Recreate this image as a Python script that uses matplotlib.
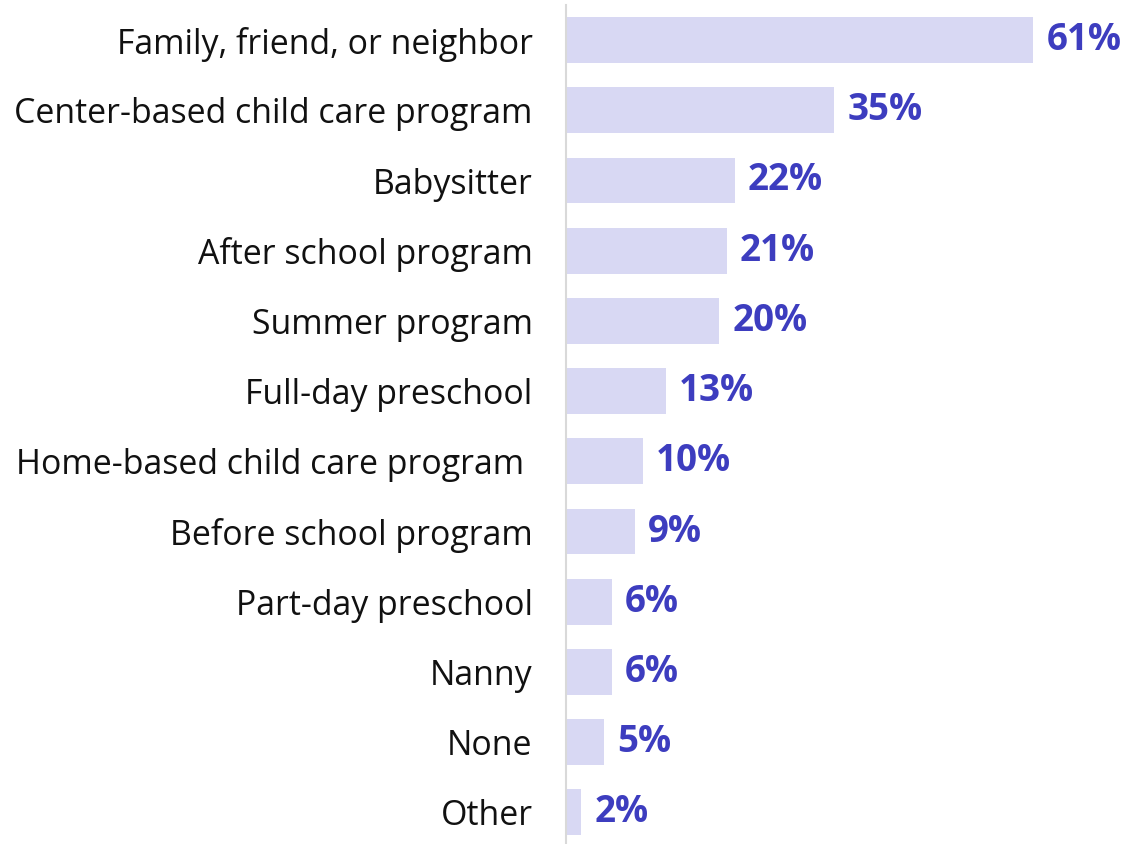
import matplotlib
matplotlib.use("Agg")
import matplotlib.pyplot as plt

categories = ["Family, friend, or neighbor", "Center-based child care program", "Babysitter",
              "After school program", "Summer program", "Full-day preschool",
              "Home-based child care program ", "Before school program", "Part-day preschool",
              "Nanny", "None", "Other"]
values = [61, 35, 22, 21, 20, 13, 10, 9, 6, 6, 5, 2]
value_labels = ["61%", "35%", "22%", "21%", "20%", "13%", "10%", "9%", "6%", "6%", "5%", "2%"]

W, H = 1146, 844
fig = plt.figure(figsize=(W / 100, H / 100), dpi=100)
ax_h = 12 * 70.2
ax = fig.add_axes([566 / W, (H - 5 - ax_h) / H, (W - 566) / W, ax_h / H])

bar_color = "#d8d8f3"
text_color = "#3d3dbf"
ypos = list(range(len(categories)))
ax.barh(ypos, values, height=0.65, color=bar_color, zorder=2)
ax.set_ylim(len(categories) - 0.5, -0.5)
ax.set_xlim(0, 580 / 7.66)

for y, v, lab in zip(ypos, values, value_labels):
    ax.text(v + 1.7, y, lab, va="center", ha="left", fontsize=26.5, fontweight="bold",
            color=text_color, family="Open Sans")

ax.set_yticks(ypos)
ax.set_yticklabels(categories, fontsize=24.4, family="Open Sans", color="#111111")
ax.tick_params(axis="y", length=0, pad=24)
ax.set_xticks([])
for s in ["top", "right", "bottom"]:
    ax.spines[s].set_visible(False)
ax.spines["left"].set_color("#d9d9d9")
ax.spines["left"].set_linewidth(1.5)

fig.savefig("out.png", dpi=100)
